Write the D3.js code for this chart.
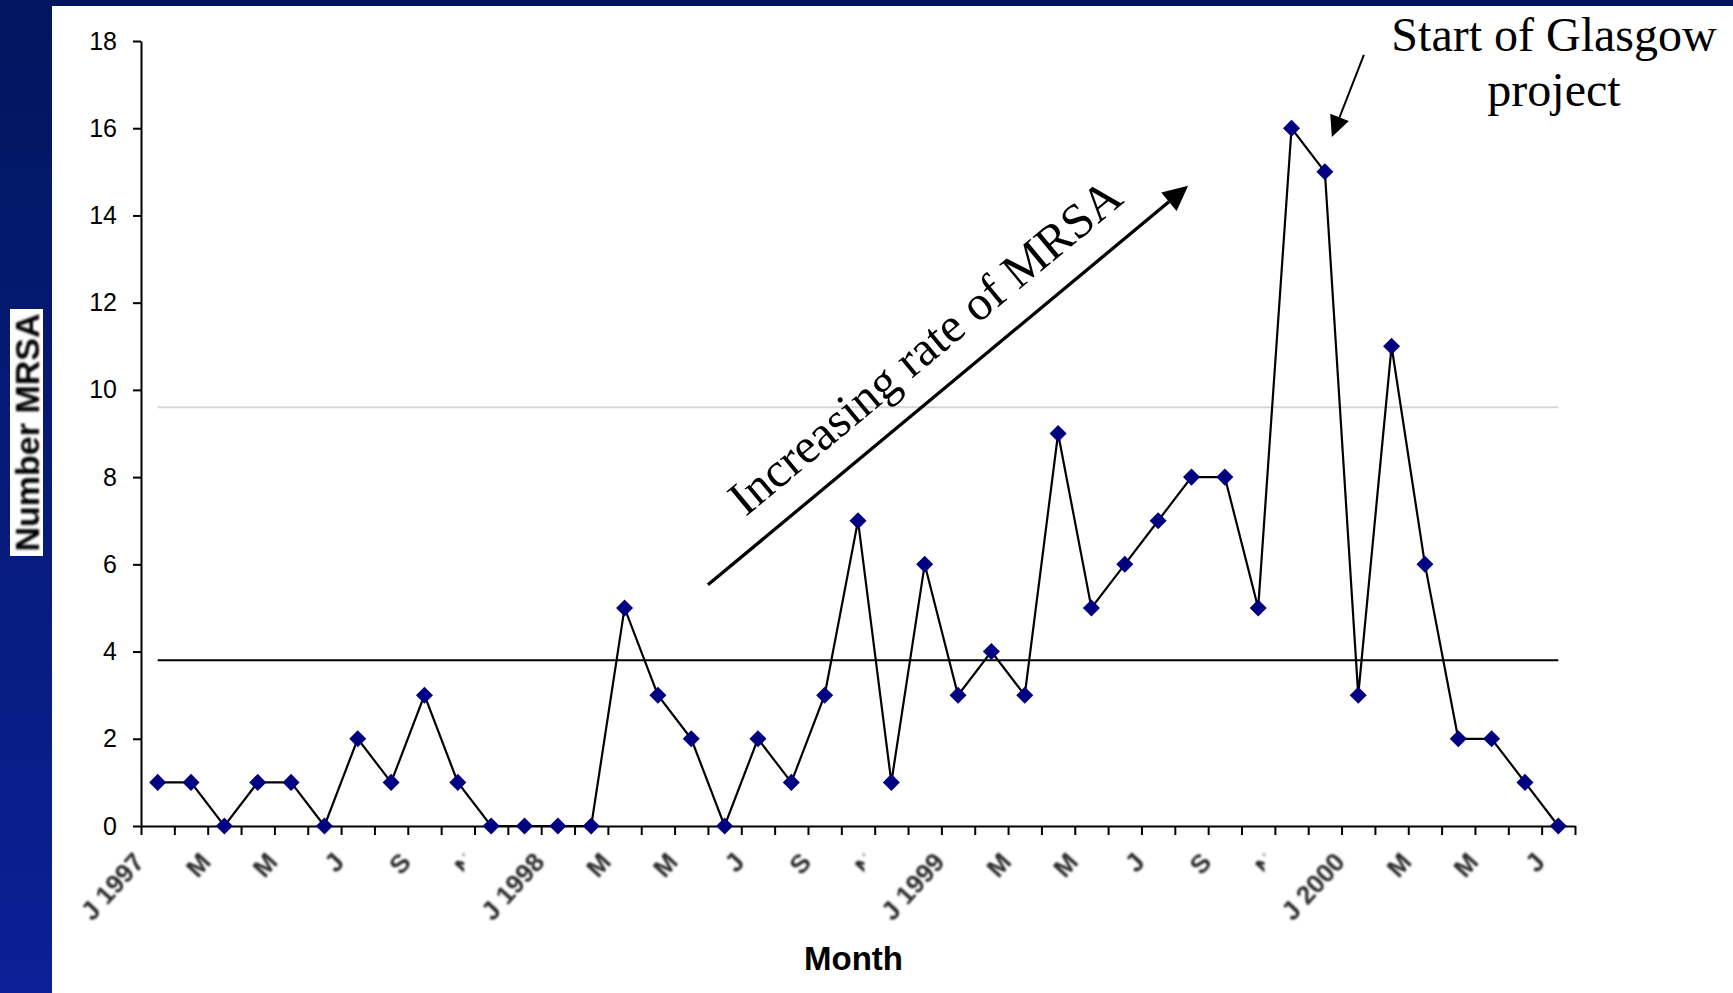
<!DOCTYPE html>
<html><head><meta charset="utf-8">
<script src="https://cdn.jsdelivr.net/npm/d3@7"></script>
<style>
html,body{margin:0;padding:0;background:#fff;overflow:hidden}
svg{display:block}
</style></head><body>
<svg id="chart" width="1733" height="993"></svg>
<script>
// Monthly MRSA counts, Jan 1997 – Jul 2000
const months = [
  "J 1997","F","M","A","M","J","J","A","S","O","N","D",
  "J 1998","F","M","A","M","J","J","A","S","O","N","D",
  "J 1999","F","M","A","M","J","J","A","S","O","N","D",
  "J 2000","F","M","A","M","J","J"
];
const mrsaCounts = [
  1,1,0,1,1,0,2,1,3,1,0,0,
  0,0,5,3,2,0,2,1,3,7,1,6,
  3,4,3,9,5,6,7,8,8,5,16,15,
  3,11,6,2,2,1,0
];
const yTicks = [0,2,4,6,8,10,12,14,16,18];
const centreLevel = [3.8];   // mean line
const upperLevel = [9.6];    // upper warning line

const svg = d3.select("#chart");
const W = 1733, H = 993;

// slide frame
const defs = svg.append("defs");
const grad = defs.append("linearGradient").attr("id","frameGrad")
  .attr("x1",0).attr("y1",0).attr("x2",0).attr("y2",1);
grad.append("stop").attr("offset","0%").attr("stop-color","#00165e");
grad.append("stop").attr("offset","100%").attr("stop-color","#0b2096");
const soft = defs.append("filter").attr("id","soft").attr("x","-10%").attr("y","-10%").attr("width","120%").attr("height","120%");
soft.append("feGaussianBlur").attr("stdDeviation",0.8);

svg.append("rect").attr("x",0).attr("y",0).attr("width",W).attr("height",H).attr("fill","#fff");
svg.append("rect").attr("x",0).attr("y",0).attr("width",52).attr("height",H).attr("fill","url(#frameGrad)");
svg.append("rect").attr("x",0).attr("y",0).attr("width",W).attr("height",6).attr("fill","#00165e");

// scales
const plot = {left:141, right:1575, top:41, bottom:826};
const x = d3.scaleBand().domain(d3.range(months.length)).range([plot.left, plot.right]).padding(0);
const xEdge = d3.scaleLinear().domain([0, months.length]).range([plot.left, plot.right]);
const y = d3.scaleLinear().domain([0,18]).range([plot.bottom, plot.top]);
const cx = i => x(i) + x.bandwidth()/2;

// reference lines from first to last month
const refLine = (lvl, color) => svg.append("line")
  .attr("x1", cx(0)).attr("x2", cx(months.length-1))
  .attr("y1", y(lvl)).attr("y2", y(lvl))
  .attr("stroke", color).attr("stroke-width", 2);
upperLevel.forEach(v => refLine(v, "#d6d6d6"));
centreLevel.forEach(v => refLine(v, "#000"));

// y axis
const yAxis = svg.append("g").attr("transform",`translate(${plot.left},0)`)
  .call(d3.axisLeft(y).tickValues(yTicks).tickSize(8).tickSizeOuter(0).tickPadding(16));
yAxis.selectAll("path,line").attr("stroke","#000").attr("stroke-width",2);
yAxis.selectAll("text").attr("font-family","Liberation Sans, Arial, sans-serif")
  .attr("font-size",25).attr("fill","#000");

// x axis: ticks at month boundaries
const xAxis = svg.append("g").attr("transform",`translate(0,${plot.bottom})`)
  .call(d3.axisBottom(xEdge).tickValues(d3.range(months.length+1)).tickSize(9).tickSizeOuter(0).tickFormat(""));
xAxis.selectAll("path,line").attr("stroke","#000").attr("stroke-width",2);

// month labels every second month
const labelIdx = d3.range(0, months.length, 2);
const labG = svg.append("g").attr("filter","url(#soft)");
labelIdx.forEach((i, k) => {
  const next = labelIdx[k+1];
  const clipped = next !== undefined && months[next].length > 1;
  const g = labG.append("g");
  if (clipped) {
    const id = "clip" + i;
    defs.append("clipPath").attr("id", id).append("rect")
      .attr("x", 0).attr("y", plot.bottom).attr("width", cx(i) - 27).attr("height", 200);
    g.attr("clip-path", `url(#${id})`);
  }
  g.append("text")
    .attr("transform", `translate(${cx(i) - 12},${plot.bottom + 37}) rotate(-48)`)
    .attr("text-anchor","end")
    .attr("font-family","Liberation Sans, Arial, sans-serif")
    .attr("font-size",26).attr("font-weight","bold").attr("fill","#2a2a2a")
    .text(months[i]);
});

// data line
const line = d3.line().x((d,i) => cx(i)).y(d => y(d));
svg.append("path").datum(mrsaCounts).attr("d", line)
  .attr("fill","none").attr("stroke","#000").attr("stroke-width",2.2).attr("stroke-linejoin","miter");

// diamond markers
const diamond = d3.symbol().type(d3.symbolSquare).size(145);
svg.append("g").selectAll("path").data(mrsaCounts).join("path")
  .attr("d", diamond)
  .attr("transform", (d,i) => `translate(${cx(i)},${y(d)}) rotate(45)`)
  .attr("fill","#000080");

// axis titles
svg.append("text").attr("x", 853.5).attr("y", 970).attr("text-anchor","middle")
  .attr("font-family","Liberation Sans, Arial, sans-serif").attr("font-weight","bold")
  .attr("font-size",33).attr("fill","#000").text("Month");

svg.append("rect").attr("x",10).attr("y",309).attr("width",33).attr("height",247).attr("fill","#fff");
svg.append("text").attr("transform","translate(39,432.5) rotate(-90)").attr("text-anchor","middle")
  .attr("font-family","Liberation Sans, Arial, sans-serif").attr("font-weight","bold")
  .attr("font-size",34).attr("fill","#000").attr("filter","url(#soft)").text("Number MRSA");

// arrow helper
function arrow(x0, y0, x1, y1, width, headLen, headHalf) {
  const a = Math.atan2(y1 - y0, x1 - x0);
  const bx = x1 - headLen*Math.cos(a), by = y1 - headLen*Math.sin(a);
  const nx = -Math.sin(a), ny = Math.cos(a);
  svg.append("line").attr("x1",x0).attr("y1",y0).attr("x2",bx).attr("y2",by)
    .attr("stroke","#000").attr("stroke-width",width);
  svg.append("path")
    .attr("d", `M${x1},${y1}L${bx + nx*headHalf},${by + ny*headHalf}L${bx - nx*headHalf},${by - ny*headHalf}Z`)
    .attr("fill","#000");
  return a;
}

// rising-trend annotation
const t0 = [xEdge(17.0), y(5.53)], t1 = [xEdge(31.4), y(14.68)];
const ang = arrow(t0[0], t0[1], t1[0], t1[1], 3.3, 25, 12);
const along = 72, off = -28;
const tx = t0[0] + along*Math.cos(ang) + off*(-Math.sin(ang));
const ty = t0[1] + along*Math.sin(ang) + off*Math.cos(ang);
svg.append("text").attr("transform",`translate(${tx},${ty}) rotate(${ang*180/Math.PI})`)
  .attr("font-family","Liberation Serif, Times New Roman, serif").attr("font-size",49)
  .attr("fill","#000").text("Increasing rate of MRSA");

// project start annotation
arrow(xEdge(36.67), y(17.68), xEdge(35.71), y(15.8), 2, 21, 10);
const note = svg.append("text").attr("text-anchor","middle")
  .attr("font-family","Liberation Serif, Times New Roman, serif").attr("font-size",48).attr("fill","#000");
note.append("tspan").attr("x",1554).attr("y",51).text("Start of Glasgow");
note.append("tspan").attr("x",1554).attr("y",106).text("project");
</script>
</body></html>
